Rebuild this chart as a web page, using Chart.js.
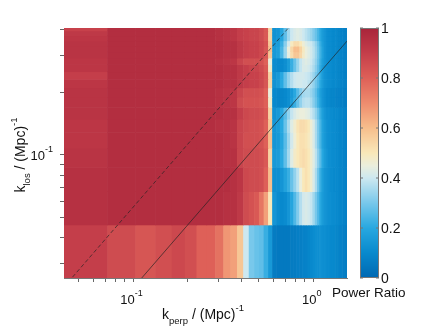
<!DOCTYPE html>
<html>
<head>
<meta charset="utf-8">
<script src="https://cdn.jsdelivr.net/npm/chart.js@4.4.1/dist/chart.umd.min.js"></script>
<style>
  html, body { margin: 0; padding: 0; background: #fff; }
  #wrap { width: 436px; height: 329px; }
</style>
</head>
<body>
<div id="wrap"><canvas id="ratioChart" width="436" height="329"></canvas></div>
<script>
// bin edges (Mpc^-1)
const kPerpEdges = [0.041, 0.072, 0.103, 0.133, 0.164, 0.194, 0.225, 0.256, 0.286, 0.317,
  0.347, 0.378, 0.409, 0.439, 0.470, 0.500, 0.531, 0.562, 0.592, 0.623,
  0.653, 0.684, 0.715, 0.745, 0.776, 0.806, 0.837, 0.868, 0.898, 0.929,
  0.959, 0.990, 1.021, 1.051, 1.082, 1.112, 1.143, 1.174, 1.204, 1.235,
  1.265, 1.296, 1.327, 1.357, 1.388, 1.418, 1.449, 1.480, 1.510, 1.541];
const kLosEdges = [0.0256, 0.0462, 0.0668, 0.0874, 0.108, 0.1286, 0.1492, 0.1698, 0.1904, 0.211,
  0.2316, 0.2522, 0.2728, 0.2934, 0.314, 0.3346, 0.3552, 0.3758, 0.3964, 0.417];

// power ratio in percent, row 0 = lowest k_los
const powerRatioPct = [
  [90,86,83,85,87,85,80,80,76,68,66,58,40,30,28,27,22,15, 6,5,5,5,5,6,6,7,7,8,8,9,10,11,12,12,13,12,12,11,11,10,10,10,9,9,8,8,7,7,6],
  [95,96,96,96,96,96,96,96,96,95,95,92,86,84,82,75,66,50, 14,11,10,11,14,19,25,31,37,41,42,41,39,35,30,25,20,16,14,13,12,12,11,11,10,10,9,9,8,8,7],
  [95,96,96,96,96,96,96,96,96,96,95,93,87,86,86,85,80,60, 12,12,14,18,22,28,33,38,45,50,52,50,47,42,36,29,22,17,14,13,12,11,11,10,10,10,9,9,8,8,7],
  [94,96,96,96,96,96,96,96,96,95,95,88,86,86,86,85,82,55, 15,16,20,27,35,43,48,50,52,53,52,50,47,43,38,32,26,20,16,14,12,12,11,11,10,10,9,9,8,8,7],
  [93,96,96,96,96,96,96,96,96,95,94,88,85,85,85,84,80,60, 14,15,19,26,34,41,46,50,52,52,51,49,46,42,36,30,24,18,15,13,12,12,11,11,10,10,9,9,8,8,7],
  [93,96,96,96,96,96,96,96,95,95,94,88,86,85,85,84,80,58, 14,16,20,28,36,43,47,51,53,53,52,50,46,42,36,30,24,18,15,13,12,12,11,11,10,10,9,9,8,8,7],
  [94,96,96,96,96,96,96,96,96,95,95,90,87,86,86,85,82,55, 13,15,19,26,33,39,42,44,45,45,44,43,40,37,33,28,22,17,14,12,12,11,11,10,10,10,9,9,8,8,7],
  [94,96,96,96,96,96,96,96,95,94,93,86,84,84,84,83,80,48, 10,9,9,10,12,16,22,28,33,37,38,38,36,32,28,23,18,14,12,10,10,9,9,9,8,8,8,7,7,6,6],
  [94,96,96,96,96,96,96,96,95,94,93,88,85,85,85,84,80,45, 10,9,9,10,12,15,20,26,31,35,36,36,34,31,27,22,17,14,12,10,10,9,9,9,8,8,8,7,7,6,6],
  [93,96,96,96,96,96,96,96,96,95,95,92,90,89,89,87,83,55, 13,15,20,27,33,37,40,41,41,40,40,38,36,33,29,25,20,16,13,12,11,11,10,10,10,9,9,8,8,7,7],
  [90,96,96,96,96,96,96,96,96,95,95,92,90,89,89,87,83,55, 13,15,20,27,33,37,40,41,41,41,40,39,37,34,30,26,21,16,13,12,11,11,10,10,10,9,9,8,8,7,7],
  [93,96,96,96,96,96,96,96,96,95,95,92,90,88,88,86,82,48, 11,10,10,12,16,22,28,34,39,42,42,41,39,36,32,27,21,16,13,12,11,11,10,10,10,9,9,8,8,7,7],
  [93,96,96,96,96,96,96,96,95,94,93,88,85,85,85,84,80,45, 11,10,10,12,16,22,28,34,39,42,43,42,40,37,33,28,22,17,14,12,11,11,10,10,10,9,9,8,8,7,7],
  [94,96,96,96,96,96,96,96,96,95,95,92,90,89,89,87,83,58, 15,17,24,34,44,53,58,58,54,48,45,43,41,38,34,29,23,18,14,12,11,11,10,10,10,9,9,8,8,7,7],
  [94,96,96,96,96,96,96,96,96,95,95,92,90,89,89,87,83,60, 15,17,24,34,45,54,60,60,55,49,45,43,41,38,34,29,23,18,14,12,11,11,10,10,10,9,9,8,8,7,7],
  [94,96,96,96,96,96,96,96,96,95,95,92,90,89,89,87,84,58, 14,16,22,32,41,49,53,53,50,46,43,41,40,37,33,28,22,17,14,12,11,11,10,10,10,9,9,8,8,7,7],
  [93,96,96,96,96,96,96,96,95,94,93,90,89,88,88,86,82,55, 13,14,19,27,35,40,42,43,42,40,38,36,34,31,28,24,20,16,14,12,11,11,10,10,10,9,9,8,8,7,7],
  [92,96,96,96,96,96,96,96,95,94,93,90,89,88,88,86,82,55, 13,14,19,27,35,40,42,43,42,40,38,36,34,31,28,24,20,16,14,12,11,11,10,10,10,9,9,8,8,7,7],
  [89,96,96,96,96,96,96,96,95,94,93,90,89,88,88,86,82,55, 13,14,19,27,35,40,42,43,42,40,38,36,34,31,28,24,20,16,14,12,11,11,10,10,10,9,9,8,8,7,7]
];

// wedge lines k_los = slope * k_perp
const wedgeSlopes = [0.56, 0.229];

const xRange = [0.0414, 1.541];
const yRange = [0.0256, 0.408];
const xTickValues = [0.05, 0.06, 0.07, 0.08, 0.09, 0.1, 0.2, 0.3, 0.4, 0.5, 0.6, 0.7, 0.8, 0.9, 1];
const yTickValues = [0.03, 0.04, 0.05, 0.06, 0.07, 0.08, 0.09, 0.1, 0.2, 0.3, 0.4];
const colorbarTicks = [0, 0.2, 0.4, 0.6, 0.8, 1];

// colormap stops [value, r, g, b]
const cmap = [
  [0.00, 0, 104, 178],
  [0.10, 8, 137, 205],
  [0.20, 40, 168, 224],
  [0.30, 120, 200, 235],
  [0.40, 205, 232, 240],
  [0.45, 235, 238, 220],
  [0.50, 249, 232, 185],
  [0.60, 247, 190, 140],
  [0.70, 238, 140, 110],
  [0.80, 222, 96, 88],
  [0.90, 196, 62, 74],
  [1.00, 168, 36, 58]
];

function colorFor(v) {
  v = Math.max(0, Math.min(1, v));
  for (let i = 1; i < cmap.length; i++) {
    if (v <= cmap[i][0]) {
      const a = cmap[i - 1], b = cmap[i];
      const t = (v - a[0]) / (b[0] - a[0]);
      const c = [1, 2, 3].map(k => Math.round(a[k] + (b[k] - a[k]) * t));
      return `rgb(${c[0]},${c[1]},${c[2]})`;
    }
  }
  return 'rgb(168,36,58)';
}

const FONT = '"Liberation Sans", Arial, Helvetica, sans-serif';

// draw text with sub/superscript pieces: [text, size, dy]
function drawParts(ctx, parts, x, y, align) {
  let width = 0;
  parts.forEach(p => { ctx.font = `${p[1]}px ${FONT}`; width += ctx.measureText(p[0]).width; });
  let cx = align === 'center' ? x - width / 2 : align === 'right' ? x - width : x;
  ctx.textAlign = 'left';
  ctx.textBaseline = 'alphabetic';
  parts.forEach(p => {
    ctx.font = `${p[1]}px ${FONT}`;
    ctx.fillText(p[0], cx, y + p[2]);
    cx += ctx.measureText(p[0]).width;
  });
}

const heatmapPlugin = {
  id: 'heatmap',
  beforeDatasetsDraw(chart) {
    const { ctx, chartArea: a, scales: { x, y } } = chart;
    ctx.save();
    ctx.beginPath();
    ctx.rect(a.left, a.top, a.width, a.height);
    ctx.clip();
    powerRatioPct.forEach((row, i) => {
      const yTop = y.getPixelForValue(kLosEdges[i + 1]);
      const yBot = y.getPixelForValue(kLosEdges[i]);
      row.forEach((v, j) => {
        const x0 = x.getPixelForValue(kPerpEdges[j]);
        const x1 = x.getPixelForValue(kPerpEdges[j + 1]);
        ctx.fillStyle = colorFor(v / 100);
        ctx.fillRect(x0, yTop, x1 - x0 + 0.6, yBot - yTop + 0.6);
      });
    });
    ctx.restore();
  }
};

const decorPlugin = {
  id: 'decor',
  afterDraw(chart) {
    const { ctx, chartArea: a, scales: { x, y } } = chart;
    ctx.save();
    ctx.fillStyle = '#111';

    // tick labels with exponents
    drawParts(ctx, [['10', 13, 0], ['-1', 9, -8]], x.getPixelForValue(0.1) - 1.5, 304, 'center');
    drawParts(ctx, [['10', 13, 0], ['0', 9, -8]], x.getPixelForValue(1) - 1.5, 304, 'center');
    drawParts(ctx, [['10', 13, 0], ['-1', 9, -8]], 53, y.getPixelForValue(0.1) + 5, 'right');

    // axis titles
    drawParts(ctx, [['k', 14, 0], ['perp', 9.5, 5], [' / (Mpc)', 14, 0], ['-1', 9.5, -8]], 203, 319, 'center');
    ctx.save();
    ctx.translate(25, 155);
    ctx.rotate(-Math.PI / 2);
    drawParts(ctx, [['k', 14, 0], ['los', 9.5, 5], [' / (Mpc)', 14, 0], ['-1', 9.5, -8]], 0, 0, 'center');
    ctx.restore();

    // colorbar
    const cbL = 360, cbR = 379, cbT = a.top, cbB = a.bottom;
    for (let py = cbT; py < cbB; py++) {
      ctx.fillStyle = colorFor((cbB - py - 0.5) / (cbB - cbT));
      ctx.fillRect(cbL, py, cbR - cbL, 1);
    }
    ctx.strokeStyle = '#777';
    ctx.lineWidth = 1;
    ctx.strokeRect(cbL + 0.5, cbT + 0.5, cbR - cbL - 1, cbB - cbT - 1);
    ctx.fillStyle = '#111';
    colorbarTicks.forEach(t => {
      const py = cbB - t * (cbB - cbT);
      ctx.beginPath();
      ctx.moveTo(cbR - 3, py);
      ctx.lineTo(cbR, py);
      ctx.moveTo(cbL, py);
      ctx.lineTo(cbL + 3, py);
      ctx.stroke();
      drawParts(ctx, [[String(t), 14, 0]], cbR + 2, py + 5, 'left');
    });
    drawParts(ctx, [['Power Ratio', 13.5, 0]], 332, 297, 'left');
    ctx.restore();
  }
};

function logAxis(range, ticks) {
  return {
    type: 'logarithmic',
    min: range[0],
    max: range[1],
    afterBuildTicks: scale => { scale.ticks = ticks.map(v => ({ value: v })); },
    ticks: { display: false, autoSkip: false },
    grid: { drawOnChartArea: false, drawTicks: true, tickLength: 4, color: '#666', lineWidth: 1 },
    border: { display: true, color: '#777', width: 1 }
  };
}

new Chart(document.getElementById('ratioChart'), {
  type: 'scatter',
  data: {
    datasets: wedgeSlopes.map((s, i) => ({
      data: [{ x: xRange[0], y: s * xRange[0] }, { x: xRange[1], y: s * xRange[1] }],
      showLine: true,
      pointRadius: 0,
      borderWidth: 0.9,
      borderColor: 'rgba(35,35,35,0.75)',
      borderDash: i === 0 ? [4, 2.5] : []
    }))
  },
  options: {
    responsive: false,
    animation: false,
    devicePixelRatio: 1,
    layout: { padding: { left: 60, right: 89, top: 28, bottom: 47 } },
    plugins: { legend: { display: false }, tooltip: { enabled: false } },
    scales: {
      x: logAxis(xRange, xTickValues),
      y: logAxis(yRange, yTickValues)
    }
  },
  plugins: [heatmapPlugin, decorPlugin]
});
</script>
</body>
</html>
